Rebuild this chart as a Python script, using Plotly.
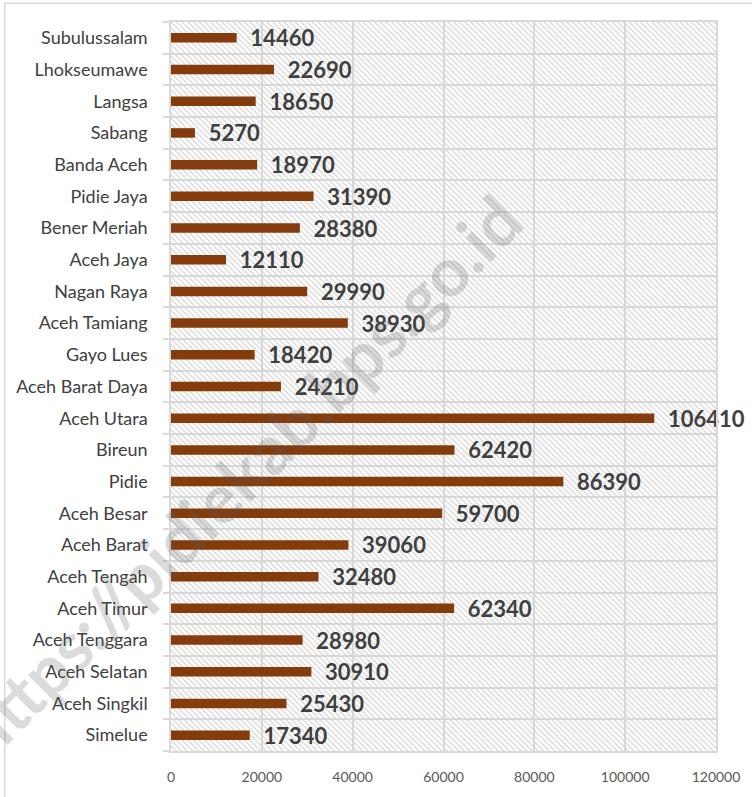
import plotly.graph_objects as go

# Kabupaten/kota in Aceh, bottom to top as drawn on the category axis
regions = [
    "Simelue", "Aceh Singkil", "Aceh Selatan", "Aceh Tenggara", "Aceh Timur",
    "Aceh Tengah", "Aceh Barat", "Aceh Besar", "Pidie", "Bireun", "Aceh Utara",
    "Aceh Barat Daya", "Gayo Lues", "Aceh Tamiang", "Nagan Raya", "Aceh Jaya",
    "Bener Meriah", "Pidie Jaya", "Banda Aceh", "Sabang", "Langsa",
    "Lhokseumawe", "Subulussalam",
]
values = [
    17340, 25430, 30910, 28980, 62340,
    32480, 39060, 59700, 86390, 62420, 106410,
    24210, 18420, 38930, 29990, 12110,
    28380, 31390, 18970, 5270, 18650,
    22690, 14460,
]
x_ticks = [0, 20000, 40000, 60000, 80000, 100000, 120000]

x_max = x_ticks[-1]
positions = list(range(len(regions)))
row_edges = [p - 0.5 for p in positions] + [positions[-1] + 0.5]

FONT = "Lato"
GRID = "#d9d9d9"
BAR = "#843c0c"
NBSP = "\u00a0"

fig = go.Figure()

# hatched plot-area background, one full-width band per row
fig.add_trace(go.Bar(
    x=[x_max] * len(regions), y=positions, orientation="h", width=1,
    marker=dict(
        color="rgba(0,0,0,0)", line=dict(width=0),
        pattern=dict(shape="\\", fillmode="replace", fgcolor="#d4d4d4",
                     bgcolor="rgba(0,0,0,0)", size=4, solidity=0.3),
    ),
    hoverinfo="skip", showlegend=False,
))

fig.add_trace(go.Bar(
    x=values, y=positions, orientation="h", width=0.3,
    marker=dict(color=BAR, line=dict(width=0)),
    text=[f"{NBSP}{NBSP}{v}" for v in values],
    textposition="outside", constraintext="none", cliponaxis=False,
    textfont=dict(family=FONT, size=22, color="#404040", weight="bold"),
    showlegend=False,
))

fig.update_layout(
    width=752, height=797,
    margin=dict(l=171, r=34, t=22, b=37),
    paper_bgcolor="white", plot_bgcolor="white",
    barmode="overlay",
    font=dict(family=FONT),
    xaxis=dict(
        range=[0, x_max], tickvals=x_ticks, ticktext=[str(t) for t in x_ticks],
        showgrid=True, gridcolor=GRID, gridwidth=1.5, zeroline=False,
        showline=True, mirror=True, linecolor=GRID, linewidth=1.5,
        ticks="", ticklabelstandoff=12,
        tickfont=dict(family=FONT, size=14, color="#595959"),
    ),
    yaxis=dict(
        range=[-0.5, len(regions) - 0.5], tickvals=positions, ticktext=regions,
        showgrid=False, zeroline=False,
        showline=True, mirror=True, linecolor=GRID, linewidth=1.5,
        ticks="", ticklabelstandoff=18,
        tickfont=dict(family=FONT, size=18, color="#404040"),
        minor=dict(tickvals=row_edges, showgrid=True, gridcolor=GRID,
                   gridwidth=1.5, ticks="outside", ticklen=6, tickcolor=GRID,
                   tickwidth=1.5),
    ),
    shapes=[dict(
        type="rect", xref="paper", yref="paper",
        x0=-0.305, x1=1.2, y0=-0.2, y1=1.0257,
        line=dict(color=GRID, width=1.5), fillcolor="rgba(0,0,0,0)",
        layer="below",
    )],
    annotations=[dict(
        text="https://pidiekab.bps.go.id", xref="paper", yref="paper",
        x=0.126, y=0.378, xanchor="center", yanchor="middle",
        showarrow=False, textangle=-45,
        font=dict(family=FONT, size=68, color="rgba(90,90,90,0.22)",
                  weight="bold"),
    )],
)

fig.write_html("out.html")
